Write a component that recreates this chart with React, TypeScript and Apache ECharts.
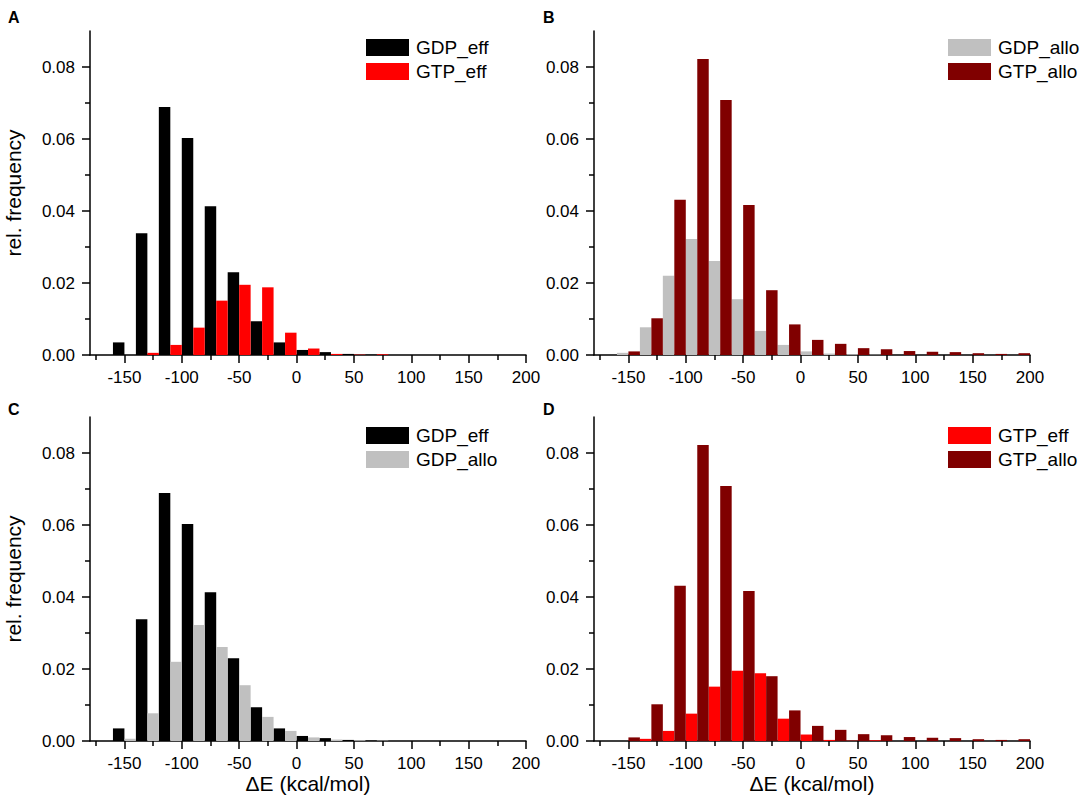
import React, { useEffect, useRef } from "react";
import * as echarts from "echarts";

// ---- data (histogram bins of width 20, given by their left edge) ----
const binStarts = [-160, -140, -120, -100, -80, -60, -40, -20, 0, 20, 40, 60, 80, 100, 120, 140, 160, 180];
const halfBin = 10;

const gdpEff = [0.0035, 0.0338, 0.0689, 0.0603, 0.0413, 0.023, 0.0094, 0.0035, 0.0014, 0.0008, 0.0003, 0.0001, 0, 0, 0, 0, 0, 0];
const gtpEff = [0, 0.0006, 0.0028, 0.0076, 0.0151, 0.0195, 0.0188, 0.0062, 0.0018, 0.0003, 0.0001, 0.0002, 0, 0, 0, 0, 0, 0];
const gdpAllo = [0.0006, 0.0077, 0.022, 0.0322, 0.0261, 0.0155, 0.0067, 0.0028, 0.001, 0.0004, 0.0002, 0.0001, 0, 0, 0, 0, 0, 0];
const gtpAllo = [0.001, 0.0102, 0.0431, 0.0822, 0.0708, 0.0417, 0.018, 0.0085, 0.0042, 0.0031, 0.0019, 0.0016, 0.0011, 0.0009, 0.0008, 0.0005, 0.0003, 0.0005];

const xMajorTicks = [-150, -100, -50, 0, 50, 100, 150, 200];
const xMinorTicks = [-175, -125, -75, -25, 25, 75, 125, 175];
const yMajorTicks = [0, 0.02, 0.04, 0.06, 0.08];
const yMinorTicks = [0.01, 0.03, 0.05, 0.07];

const panelLetters = ["A", "B", "C", "D"];
const yAxisTitle = "rel. frequency";
const xAxisTitle = "ΔE (kcal/mol)";

const COLORS: Record<string, string> = {
  GDP_eff: "#000000",
  GTP_eff: "#ff0000",
  GDP_allo: "#c0c0c0",
  GTP_allo: "#800000",
};
const VALUES: Record<string, number[]> = {
  GDP_eff: gdpEff,
  GTP_eff: gtpEff,
  GDP_allo: gdpAllo,
  GTP_allo: gtpAllo,
};
const panelSeries = [
  ["GDP_eff", "GTP_eff"],
  ["GDP_allo", "GTP_allo"],
  ["GDP_eff", "GDP_allo"],
  ["GTP_eff", "GTP_allo"],
];

const FONT = "'Liberation Sans', Arial, Helvetica, sans-serif";

// layout
const layout = [
  { left: 90, top: 31, letterX: 8, letterY: 9, legendX: 366, legendY: 38, yName: true, xName: false },
  { left: 594, top: 31, letterX: 543, letterY: 9, legendX: 948, legendY: 38, yName: false, xName: false },
  { left: 90, top: 417, letterX: 8, letterY: 401, legendX: 366, legendY: 426, yName: true, xName: true },
  { left: 594, top: 417, letterX: 543, letterY: 401, legendX: 948, legendY: 426, yName: false, xName: true },
];
const GRID_W = 436;
const GRID_H = 324;

export default function App() {
  const ref = useRef<HTMLDivElement>(null);
  useEffect(() => {
    if (!ref.current) return;
    const chart = echarts.init(ref.current, undefined, { renderer: "svg" });
    const axisLine = { show: true, onZero: false, lineStyle: { color: "#000", width: 1.5 } };
    const tickStyle = { color: "#000", width: 1.5 };
    const labelStyle = { color: "#000", fontSize: 17, fontFamily: FONT };

    const grid: any[] = [];
    const xAxis: any[] = [];
    const yAxis: any[] = [];
    const series: any[] = [];
    const legend: any[] = [];
    const graphic: any[] = [];

    layout.forEach((p, i) => {
      grid.push({ left: p.left, top: p.top, width: GRID_W, height: GRID_H, containLabel: false });
      xAxis.push({
        type: "value",
        gridIndex: i,
        min: -180,
        max: 200,
        position: "bottom",
        axisLine,
        axisTick: { show: true, customValues: xMajorTicks, length: 8, lineStyle: tickStyle },
        axisLabel: { customValues: xMajorTicks, margin: 14, ...labelStyle },
        splitLine: { show: false },
        name: p.xName ? xAxisTitle : "",
        nameLocation: "middle",
        nameGap: 30,
        nameTextStyle: { color: "#000", fontSize: 21, fontFamily: FONT },
      });
      xAxis.push({
        type: "value",
        gridIndex: i,
        min: -180,
        max: 200,
        position: "bottom",
        axisLine: { show: false, onZero: false },
        axisTick: { show: true, customValues: xMinorTicks, length: 5, lineStyle: tickStyle },
        axisLabel: { show: false },
        splitLine: { show: false },
      });
      yAxis.push({
        type: "value",
        gridIndex: i,
        min: 0,
        max: 0.09,
        position: "left",
        axisLine,
        axisTick: { show: true, customValues: yMajorTicks, length: 8, lineStyle: tickStyle },
        axisLabel: { customValues: yMajorTicks, margin: 15, formatter: (v: number) => v.toFixed(2), ...labelStyle },
        splitLine: { show: false },
        name: p.yName ? yAxisTitle : "",
        nameLocation: "middle",
        nameGap: 66,
        nameTextStyle: { color: "#000", fontSize: 21, fontFamily: FONT },
      });
      yAxis.push({
        type: "value",
        gridIndex: i,
        min: 0,
        max: 0.09,
        position: "left",
        axisLine: { show: false, onZero: false },
        axisTick: { show: true, customValues: yMinorTicks, length: 5, lineStyle: tickStyle },
        axisLabel: { show: false },
        splitLine: { show: false },
      });

      panelSeries[i].forEach((name, k) => {
        const color = COLORS[name];
        const offset = k * halfBin;
        series.push({
          type: "custom",
          name,
          xAxisIndex: 2 * i,
          yAxisIndex: 2 * i,
          itemStyle: { color },
          encode: { x: 0, y: 1 },
          data: binStarts.map((b, j) => [b, VALUES[name][j]]),
          renderItem: (params: any, api: any) => {
            const x0 = api.value(0) + offset;
            const v = api.value(1);
            const pTop = api.coord([x0, v]);
            const pBot = api.coord([x0 + halfBin, 0]);
            return {
              type: "rect",
              shape: { x: pTop[0], y: pTop[1], width: pBot[0] - pTop[0], height: pBot[1] - pTop[1] },
              style: { fill: color },
            };
          },
        });
      });

      legend.push({
        data: panelSeries[i],
        left: p.legendX,
        top: p.legendY,
        orient: "vertical",
        icon: "rect",
        itemWidth: 43,
        itemHeight: 17,
        itemGap: 5,
        padding: 0,
        selectedMode: false,
        textStyle: { color: "#000", fontSize: 19, fontFamily: FONT, padding: [0, 0, 0, 2] },
      });

      graphic.push({
        type: "text",
        left: p.letterX,
        top: p.letterY,
        style: { text: panelLetters[i], fill: "#000", font: `bold 16px ${FONT}` },
      });
    });

    chart.setOption({
      animation: false,
      backgroundColor: "#ffffff",
      grid,
      xAxis,
      yAxis,
      series,
      legend,
      graphic,
    });
    return () => chart.dispose();
  }, []);

  return (
    <div
      ref={ref}
      style={{ position: "fixed", left: 0, top: 0, width: 1084, height: 801, background: "#fff" }}
    />
  );
}
